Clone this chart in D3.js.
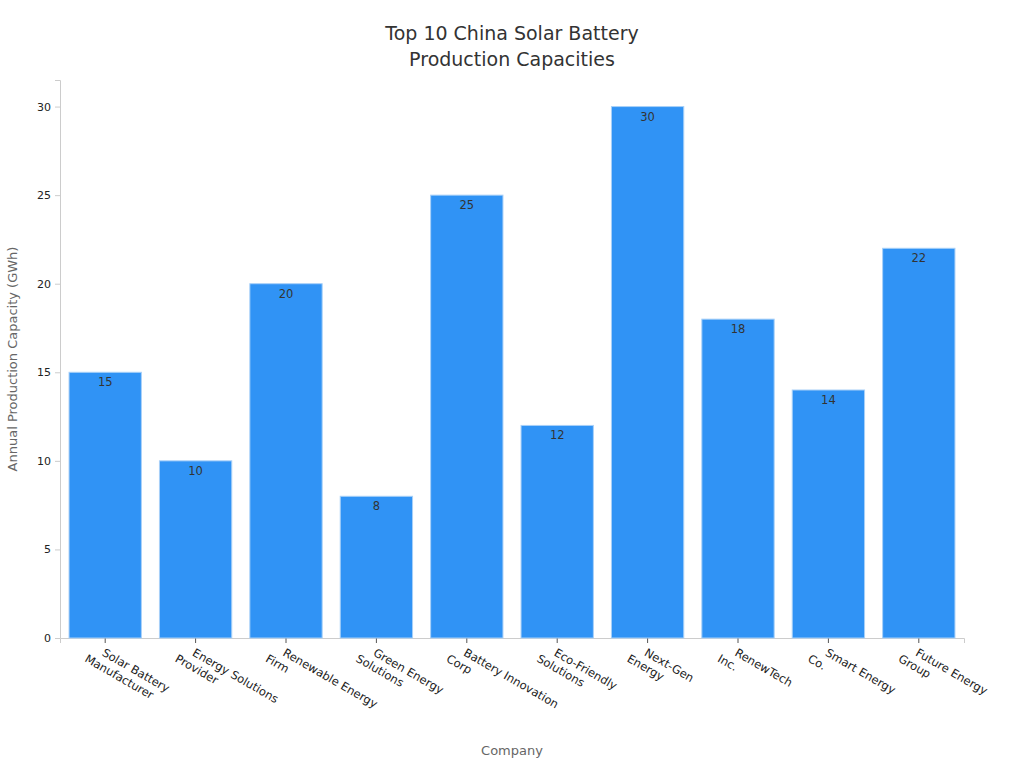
<!DOCTYPE html><html><head><meta charset="utf-8"><script src="https://cdn.jsdelivr.net/npm/d3@7"></script>
<style>body{margin:0;background:#fff;font-family:"DejaVu Sans",sans-serif}</style></head><body><svg id="c" width="1024" height="768"></svg>
<script>
const categories=[["Solar Battery","Manufacturer"],["Energy Solutions","Provider"],["Renewable Energy","Firm"],["Green Energy","Solutions"],["Battery Innovation","Corp"],["Eco-Friendly","Solutions"],["Next-Gen","Energy"],["RenewTech","Inc."],["Smart Energy","Co."],["Future Energy","Group"]];
const values=[15,10,20,8,25,12,30,18,14,22];
const yTicks=[0,5,10,15,20,25,30];
const svg=d3.select("#c");
const m={l:60,r:964,t:80,b:638};
const x=d3.scaleBand().domain(d3.range(10)).range([m.l,m.r]).paddingInner(0.2).paddingOuter(0.1);
const y=d3.scaleLinear().domain([0,31.5]).range([m.b,m.t]);
svg.append("text").attr("x",512).attr("y",40).attr("text-anchor","middle").attr("font-size",19).attr("fill","#333").text("Top 10 China Solar Battery");
svg.append("text").attr("x",512).attr("y",66).attr("text-anchor","middle").attr("font-size",19).attr("fill","#333").text("Production Capacities");
const ya=svg.append("g").attr("transform",`translate(${m.l},0)`).call(d3.axisLeft(y).tickValues(yTicks).tickSize(5).tickPadding(4));
ya.selectAll("text").attr("font-size",11).attr("fill","#222").attr("font-family","DejaVu Sans");
ya.selectAll("line,path").attr("stroke","#ccc");
const xa=svg.append("g").attr("transform",`translate(0,${m.b})`).call(d3.axisBottom(x).tickSize(5).tickFormat(""));
xa.selectAll("line").attr("stroke","#555");xa.select("path").attr("stroke","#ccc");
svg.selectAll("rect.b").data(values).enter().append("rect").attr("x",(d,i)=>x(i)).attr("width",x.bandwidth()).attr("y",d=>y(d)).attr("height",d=>m.b-y(d)).attr("fill","#3093f5").attr("stroke","#a8d0f8").attr("stroke-width",1);
svg.selectAll("text.v").data(values).enter().append("text").attr("x",(d,i)=>x(i)+x.bandwidth()/2).attr("y",d=>y(d)+14).attr("text-anchor","middle").attr("font-size",11.5).attr("fill","#333").text(d=>d);
categories.forEach((c,i)=>{const t=svg.append("text").attr("transform",`translate(${x(i)+x.bandwidth()/2-4},${m.b+17}) rotate(30)`).attr("font-size",11.5).attr("fill","#222");
c.forEach((s,j)=>t.append("tspan").attr("x",j?-12:0).attr("dy",j?"1.2em":0).text(s));});
svg.append("text").attr("x",512).attr("y",755).attr("text-anchor","middle").attr("font-size",13).attr("fill","#666").text("Company");
svg.append("text").attr("transform","translate(17,359) rotate(-90)").attr("text-anchor","middle").attr("font-size",13).attr("fill","#666").text("Annual Production Capacity (GWh)");
</script></body></html>
